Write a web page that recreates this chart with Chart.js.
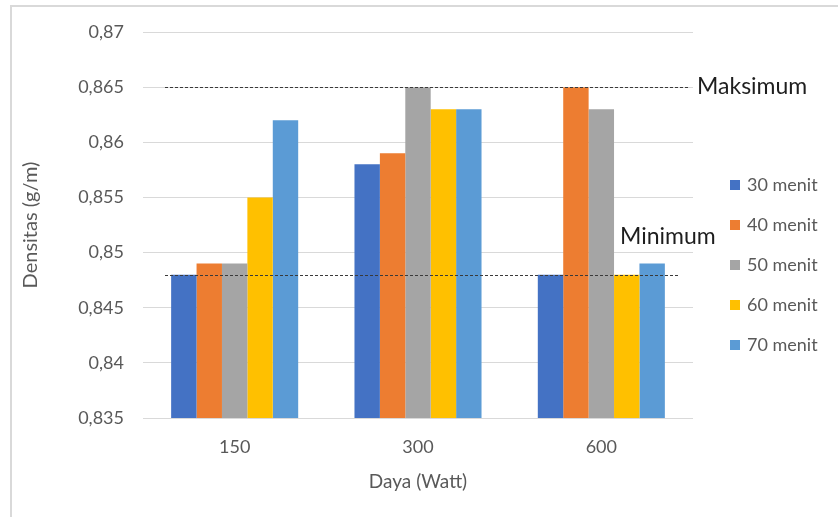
<!DOCTYPE html>
<html>
<head>
<meta charset="utf-8">
<script src="https://cdn.jsdelivr.net/npm/chart.js@4.4.1/dist/chart.umd.min.js"></script>
<style>
  html, body { margin: 0; padding: 0; background: #ffffff; }
  #wrap { width: 838px; height: 517px; }
</style>
</head>
<body>
<div id="wrap"><canvas id="c" width="838" height="517"></canvas></div>
<script>
// ---- Data ----
const categories = ['150', '300', '600'];
const seriesNames = ['30 menit', '40 menit', '50 menit', '60 menit', '70 menit'];
const menit30 = [0.848, 0.858, 0.848];
const menit40 = [0.849, 0.859, 0.865];
const menit50 = [0.849, 0.865, 0.863];
const menit60 = [0.855, 0.863, 0.848];
const menit70 = [0.862, 0.863, 0.849];
const yTicks = [0.835, 0.84, 0.845, 0.85, 0.855, 0.86, 0.865, 0.87];
const maxLineValue = 0.865;
const minLineValue = 0.848;
const maxLabel = 'Maksimum';
const minLabel = 'Minimum';
const xTitle = 'Daya (Watt)';
const yTitle = 'Densitas (g/m)';

const colors = ['#4472C4', '#ED7D31', '#A5A5A5', '#FFC000', '#5B9BD5'];
const seriesValues = [menit30, menit40, menit50, menit60, menit70];
const FONT = 'Lato';

function fmt(v) {
  return String(Number(v.toFixed(3))).replace('.', ',');
}

const framePlugin = {
  id: 'frame',
  beforeDraw(chart) {
    const ctx = chart.ctx;
    ctx.save();
    ctx.fillStyle = '#ffffff';
    ctx.fillRect(0, 0, chart.width, chart.height);
    ctx.strokeStyle = '#d9d9d9';
    ctx.lineWidth = 2;
    ctx.beginPath();
    ctx.moveTo(11, chart.height);
    ctx.lineTo(11, 6);
    ctx.lineTo(chart.width, 6);
    ctx.stroke();
    ctx.restore();
  }
};

const refLinesPlugin = {
  id: 'refLines',
  afterDatasetsDraw(chart) {
    const ctx = chart.ctx;
    const y = chart.scales.y;
    const a = chart.chartArea;
    ctx.save();
    ctx.strokeStyle = '#3a3a3a';
    ctx.lineWidth = 1;
    ctx.setLineDash([3, 2]);
    const yMax = Math.round(y.getPixelForValue(maxLineValue)) + 0.5;
    const yMin = Math.round(y.getPixelForValue(minLineValue)) + 0.5;
    ctx.beginPath();
    ctx.moveTo(a.left + 22, yMax);
    ctx.lineTo(a.right - 5, yMax);
    ctx.moveTo(a.left + 22, yMin);
    ctx.lineTo(a.right - 15, yMin);
    ctx.stroke();
    ctx.setLineDash([]);
    ctx.fillStyle = '#1e1e1e';
    ctx.font = '23px ' + FONT;
    ctx.textBaseline = 'middle';
    ctx.textAlign = 'left';
    ctx.fillText(maxLabel, a.right + 4, yMax - 1);
    ctx.fillText(minLabel, a.right - 73, y.getPixelForValue(minLineValue) - 38);
    ctx.restore();
  }
};

const legendPlugin = {
  id: 'customLegend',
  afterDraw(chart) {
    const ctx = chart.ctx;
    ctx.save();
    ctx.font = '18px ' + FONT;
    ctx.textBaseline = 'middle';
    ctx.textAlign = 'left';
    chart.data.datasets.forEach((ds, i) => {
      const cy = 185 + i * 40;
      ctx.fillStyle = ds.backgroundColor;
      ctx.fillRect(730, cy - 5, 10, 10);
      ctx.fillStyle = '#595959';
      ctx.fillText(ds.label, 747, cy);
    });
    ctx.restore();
  }
};

new Chart(document.getElementById('c'), {
  type: 'bar',
  data: {
    labels: categories,
    datasets: seriesNames.map((name, i) => ({
      label: name,
      data: seriesValues[i],
      backgroundColor: colors[i],
      borderWidth: 0,
      categoryPercentage: 0.693,
      barPercentage: 1.0
    }))
  },
  options: {
    responsive: false,
    animation: false,
    devicePixelRatio: 1,
    layout: { padding: { left: 19, top: 32, right: 145, bottom: 24 } },
    plugins: {
      legend: { display: false },
      tooltip: { enabled: false }
    },
    scales: {
      x: {
        grid: { display: false, drawTicks: false },
        border: { display: false },
        ticks: { color: '#595959', font: { family: FONT, size: 18 }, padding: 18 },
        title: { display: true, text: xTitle, color: '#595959', font: { family: FONT, size: 19 }, padding: 0 },
        afterFit(scale) { scale.height = 75; }
      },
      y: {
        min: 0.835,
        max: 0.87,
        afterBuildTicks(scale) { scale.ticks = yTicks.map(v => ({ value: v })); },
        grid: { color: '#d9d9d9', lineWidth: 1, drawTicks: false },
        border: { display: false },
        ticks: {
          color: '#595959',
          font: { family: FONT, size: 18 },
          padding: 19,
          callback: (v) => fmt(v)
        },
        title: { display: true, text: yTitle, color: '#595959', font: { family: FONT, size: 20 }, padding: 0 },
        afterFit(scale) { scale.width = 124; }
      }
    }
  },
  plugins: [framePlugin, refLinesPlugin, legendPlugin]
});
</script>
</body>
</html>
